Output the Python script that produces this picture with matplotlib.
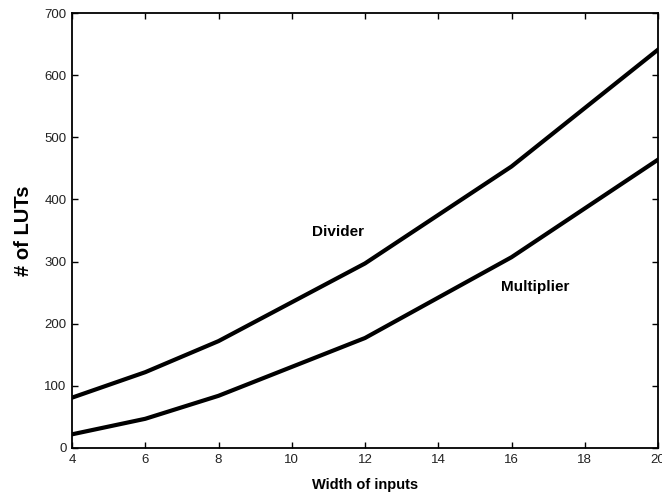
import matplotlib
matplotlib.use("Agg")
import matplotlib.pyplot as plt

width = [4, 6, 8, 12, 16, 20]
divider = [81, 122, 172, 297, 453, 641]
multiplier = [22, 47, 84, 177, 307, 464]
xticks = [4, 6, 8, 10, 12, 14, 16, 18, 20]
yticks = [0, 100, 200, 300, 400, 500, 600, 700]

plt.rcParams['font.family'] = ['Liberation Sans', 'DejaVu Sans']

fig = plt.figure(figsize=(6.62, 4.92), dpi=100)
ax = fig.add_axes([72/662, 44/492, 586/662, 435/492])

ax.plot(width, divider, color='black', lw=3, solid_joinstyle='round')
ax.plot(width, multiplier, color='black', lw=3, solid_joinstyle='round')

ax.set_xlim(4, 20)
ax.set_ylim(0, 700)
ax.set_xticks(xticks)
ax.set_yticks(yticks)
ax.tick_params(direction='in', length=4, width=1, top=True, right=True,
               labelsize=9.5, pad=4, labelcolor='#222222')
for s in ax.spines.values():
    s.set_linewidth(1.3)

ax.set_xlabel('Width of inputs', fontsize=10.5, fontweight='bold', labelpad=9)
ax.set_ylabel('# of LUTs', fontsize=14.5, fontweight='bold', labelpad=8)

ax.text(11.27, 347, 'Divider', fontsize=11, fontweight='bold', ha='center', va='center')
ax.text(16.65, 259, 'Multiplier', fontsize=11, fontweight='bold', ha='center', va='center')

fig.savefig('out.png', dpi=100)
